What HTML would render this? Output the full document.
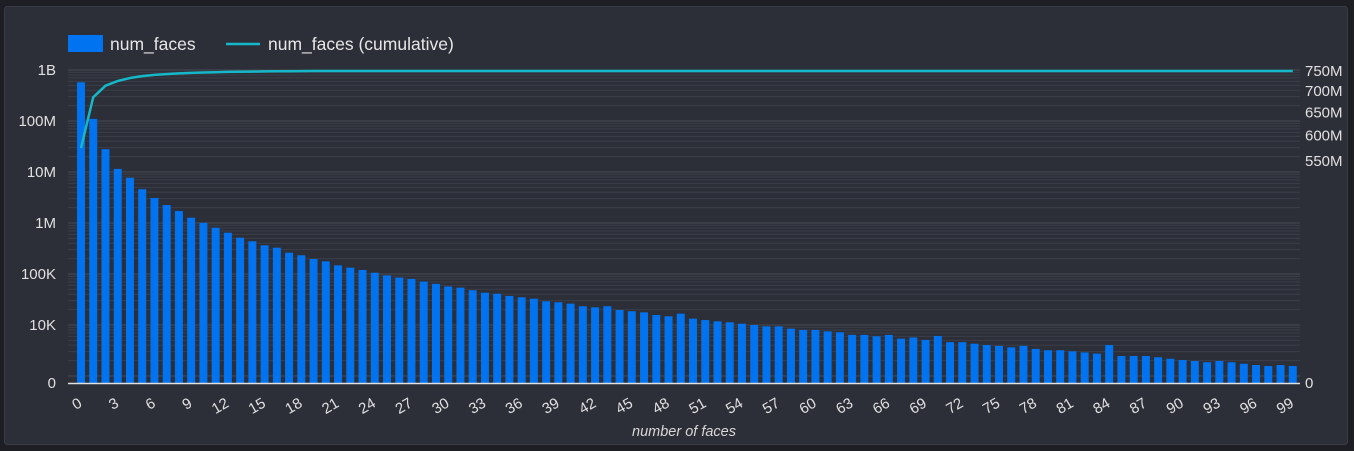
<!DOCTYPE html>
<html><head><meta charset="utf-8"><style>
html,body{margin:0;padding:0;background:#1e1f24;}
svg{display:block;font-family:"Liberation Sans","DejaVu Sans",sans-serif;}
</style></head><body>
<svg width="1354" height="451" viewBox="0 0 1354 451" xmlns="http://www.w3.org/2000/svg">
<rect x="4.5" y="6.5" width="1343" height="438" rx="3" fill="#2c2e38" stroke="#3a3c46"/>
<g id="grid"></g>
<g id="bars"></g>
<g id="line"></g>
<g id="axes"></g>
<g>
<rect x="68" y="35" width="35" height="17" fill="#0073f0"/>
<text x="110" y="50" fill="#e6e6e6" font-size="17.5">num_faces</text>
<line x1="226" y1="44" x2="260" y2="44" stroke="#14b8c8" stroke-width="2.5"/>
<text x="268" y="50" fill="#e6e6e6" font-size="17.5">num_faces (cumulative)</text>
</g>
<text x="684" y="436" fill="#d8d8d8" font-size="14.5" font-style="italic" text-anchor="middle">number of faces</text>
</svg>
<script>
const categories = Array.from({length:100},(_, i)=>i);
const numFaces = [575e6,110e6,28e6,11.5e6,7.7e6,4.6e6,3.1e6,2.25e6,1.72e6,1.27e6,
1.01e6,810e3,645e3,515e3,438e3,365e3,328e3,262e3,233e3,197e3,
177e3,148e3,133e3,120e3,106e3,94e3,85e3,80e3,71e3,64e3,
57e3,54e3,48e3,43e3,41e3,37.1e3,34.9e3,32.8e3,29.2e3,27.9e3,
26.2e3,23.3e3,22.2e3,23.3e3,19.7e3,18.6e3,17.7e3,15.7e3,14.8e3,16.7e3,
13.3e3,12.5e3,11.8e3,11.3e3,10.6e3,10e3,9.4e3,9.4e3,8.5e3,8.0e3,
8.0e3,7.5e3,7.2e3,6.4e3,6.4e3,6.0e3,6.4e3,5.4e3,5.7e3,5.1e3,
6.1e3,4.6e3,4.6e3,4.3e3,4.05e3,3.9e3,3.65e3,3.9e3,3.4e3,3.2e3,
3.2e3,3.05e3,2.9e3,2.75e3,4.05e3,2.47e3,2.47e3,2.47e3,2.33e3,2.18e3,
2.06e3,1.97e3,1.86e3,1.97e3,1.86e3,1.74e3,1.64e3,1.57e3,1.64e3,1.57e3];
const leftTicks = [0,1e4,1e5,1e6,1e7,1e8,1e9];
const leftTickLabels = ["0","10K","100K","1M","10M","100M","1B"];
const rightTicks = [0,550e6,600e6,650e6,700e6,750e6];
const rightTickLabels = ["0","550M","600M","650M","700M","750M"];

const NS="http://www.w3.org/2000/svg";
const X0=81, DX=12.24, BASE=383, PL=68, PR=1300;
function xPos(i){return X0+i*DX;}
function yLeft(v){ if(v<=0) return BASE; return Math.min(BASE, 325-(Math.log10(v)-4)*51); }
function yRight(v){ if(v<=0) return BASE; return 71+290*Math.log(750e6/v); }
function mk(tag,attrs,parent){const e=document.createElementNS(NS,tag);for(const k in attrs)e.setAttribute(k,attrs[k]);parent.appendChild(e);return e;}

const grid=document.getElementById('grid');
for(let d=3; d<=8; d++){
  for(let m=1;m<=9;m++){
    const v=m*Math.pow(10,d); const y=yLeft(v);
    if(y>=BASE-1) continue;
    const g=mk('line',{x1:PL,x2:PR,y1:y,y2:y,stroke:m===1?'#474a55':'#3b3e48','stroke-width':1},grid);
    
    
  }
}
{const y=yLeft(1e9);const g=mk('line',{x1:PL,x2:PR,y1:y,y2:y,stroke:'#474a55'},grid);

}

const bars=document.getElementById('bars');
categories.forEach((c,i)=>{
  const y=yLeft(numFaces[i]);
  const r=mk('rect',{x:xPos(c)-4,y:y,width:8,height:BASE-y,fill:'#0073f0'},bars);
  
  
});

const cum=[];let s=0;numFaces.forEach(v=>{s+=v;cum.push(s);});
let d='';
cum.forEach((v,i)=>{d+=(i?'L':'M')+xPos(categories[i]).toFixed(1)+','+Math.max(71,yRight(v)).toFixed(1);});
const p=mk('path',{d:d,fill:'none',stroke:'#14b8c8','stroke-width':2.5,'stroke-linejoin':'round'},document.getElementById('line'));



const axes=document.getElementById('axes');
const al=mk('line',{x1:PL,x2:PR,y1:BASE+0.5,y2:BASE+0.5,stroke:'#e0e0e0','stroke-width':1.5},axes);


leftTicks.forEach((v,i)=>{
  const t=mk('text',{x:56,y:yLeft(v)+5,fill:'#e0e0e0','font-size':15,'text-anchor':'end'},axes);
  t.textContent=leftTickLabels[i];
  
  
});
rightTicks.forEach((v,i)=>{
  const t=mk('text',{x:1305,y:yRight(v)+5,fill:'#e0e0e0','font-size':15},axes);
  t.textContent=rightTickLabels[i];
  
  
});
categories.forEach(c=>{
  if(c%3!==0) return;
  const x=xPos(c)+2, y=406;
  const t=mk('text',{x:x,y:y,fill:'#e0e0e0','font-size':15,'text-anchor':'end',transform:'rotate(-30 '+x+' '+y+')'},axes);
  t.textContent=String(c);
  
  
});
</script>
</body></html>
